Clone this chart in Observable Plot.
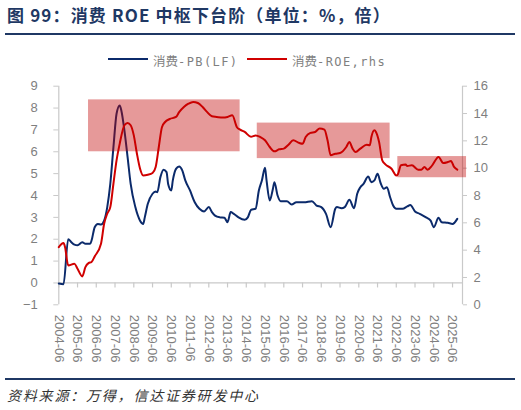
<!DOCTYPE html>
<html><head><meta charset="utf-8">
<script src="https://cdn.jsdelivr.net/npm/d3@7"></script>
<script src="https://cdn.jsdelivr.net/npm/@observablehq/plot@0.6"></script>
<style>
html,body{margin:0;padding:0;background:#fff;}
body{width:521px;height:410px;position:relative;overflow:hidden;font-family:"Noto Sans CJK SC","Noto Sans",sans-serif;}
#title{position:absolute;left:7px;top:2px;font-size:17px;font-weight:bold;color:#1f3864;letter-spacing:1.15px;white-space:nowrap;}
.hr{position:absolute;left:5px;width:510px;height:2px;background:#1f3864;}
#legend{position:absolute;top:49px;left:0;width:521px;height:20px;color:#7f7f7f;}
.lg-line{position:absolute;top:9px;width:40px;height:2px;}
.lg-text{position:absolute;top:0;white-space:nowrap;line-height:20px;}
.cjk{font-family:"Noto Sans CJK SC",sans-serif;font-size:12.5px;}
.mono{font-family:"DejaVu Sans Mono",monospace;font-size:12px;letter-spacing:1.4px;}
#chart{position:absolute;left:0;top:75px;}
#source{position:absolute;left:7px;top:385px;font-size:14px;font-style:italic;color:#333;letter-spacing:1.8px;white-space:nowrap;}
</style>
</head><body>
<div id="title">图 99：消费 ROE 中枢下台阶（单位：%，倍）</div>
<div class="hr" style="top:33px"></div>
<div id="legend">
  <div class="lg-line" style="left:108px;background:#0b2a6b"></div>
  <div class="lg-text" style="left:153px"><span class="cjk">消费</span><span class="mono">-PB(LF)</span></div>
  <div class="lg-line" style="left:247px;background:#d00000"></div>
  <div class="lg-text" style="left:292px"><span class="cjk">消费</span><span class="mono">-ROE,rhs</span></div>
</div>
<div id="chart"></div>
<div class="hr" style="top:378px"></div>
<div id="source">资料来源：万得，信达证券研发中心</div>
<script>
// ---- data ----
const pbDates = ["2004-06","2004-09","2004-12",
 "2005-02","2005-04","2005-06","2005-09","2005-11",
 "2006-02","2006-03","2006-05","2006-07","2006-09","2006-11",
 "2007-01","2007-03","2007-05","2007-07","2007-09","2007-10","2007-12",
 "2008-02","2008-04","2008-07","2008-10","2008-12",
 "2009-01","2009-03","2009-06","2009-08","2009-09","2009-11",
 "2010-01","2010-03","2010-04","2010-06","2010-07","2010-09","2010-11",
 "2011-01","2011-03","2011-06","2011-09","2011-12",
 "2012-03","2012-06","2012-08","2012-10",
 "2013-01","2013-04","2013-06","2013-08","2013-10",
 "2014-01","2014-05","2014-07","2014-09","2014-12",
 "2015-02","2015-04","2015-06","2015-07","2015-09","2015-11","2015-12",
 "2016-02","2016-04","2016-08","2016-11",
 "2017-02","2017-07","2017-12",
 "2018-03","2018-06","2018-09","2018-12",
 "2019-03","2019-04","2019-07","2019-09","2019-12",
 "2020-03","2020-05","2020-07","2020-09","2020-12",
 "2021-02","2021-04","2021-06","2021-08","2021-10","2021-12",
 "2022-02","2022-04","2022-06","2022-10",
 "2023-01","2023-03","2023-06","2023-09",
 "2024-01","2024-04","2024-06","2024-09","2024-11",
 "2025-03","2025-06","2025-09"];
const pbValues = [-0.03,-0.06,2.0,
 1.86,1.75,1.72,1.86,1.79,
 1.79,1.94,2.55,2.7,2.67,2.85,
 3.47,4.53,6.2,7.74,8.12,7.9,6.98,
 5.76,4.53,3.47,2.85,2.7,
 3.0,3.62,4.08,4.18,4.15,4.84,
 5.18,5.07,4.53,4.23,4.69,5.22,5.33,
 5.15,4.69,4.23,3.69,3.39,
 3.27,3.47,3.24,3.08,
 3.0,2.98,2.78,3.24,3.16,
 3.0,2.89,3.0,3.34,3.4,
 4.23,4.69,5.27,4.69,3.77,4.3,4.61,
 4.0,3.74,3.74,3.59,
 3.69,3.69,3.74,
 3.54,3.47,3.16,2.55,
 3.39,3.47,3.42,3.47,3.8,
 3.42,4.08,4.38,4.53,4.87,
 4.61,4.69,4.99,4.56,4.31,4.38,
 3.92,3.54,3.39,3.39,
 3.5,3.57,3.27,3.16,
 3.0,2.85,2.55,2.98,2.78,
 2.75,2.7,2.93];

const roeDates = ["2004-06","2004-09","2004-10","2004-12",
 "2005-04","2005-06","2005-09","2005-11",
 "2006-01","2006-03","2006-05","2006-09","2006-11",
 "2007-01","2007-03","2007-05","2007-07","2007-09","2007-12",
 "2008-02","2008-04","2008-06","2008-08","2008-10","2008-12",
 "2009-03","2009-06","2009-08","2009-10","2009-12",
 "2010-02","2010-05","2010-09","2010-11",
 "2011-02","2011-05","2011-08","2011-11",
 "2012-02","2012-05","2012-08","2012-11",
 "2013-03","2013-06","2013-09","2013-12",
 "2014-02","2014-05","2014-09","2014-12",
 "2015-03","2015-06","2015-09","2015-12",
 "2016-03","2016-06","2016-09","2016-12",
 "2017-04","2017-06","2017-08","2017-11",
 "2018-02","2018-05","2018-08","2018-10","2018-12",
 "2019-03","2019-06","2019-10","2019-12",
 "2020-02","2020-04","2020-07","2020-11",
 "2021-01","2021-02","2021-04","2021-05","2021-07","2021-09","2021-11",
 "2022-03","2022-06","2022-07","2022-09","2022-12",
 "2023-01","2023-04","2023-08","2023-10","2023-12",
 "2024-02","2024-05","2024-09","2024-12",
 "2025-03","2025-05","2025-07","2025-09"];
const roeValues = [4.22,4.52,4.22,2.88,
 3.0,2.64,2.08,2.76,
 3.05,3.13,3.54,4.47,5.93,
 6.67,7.15,8.86,10.57,11.8,13.14,
 13.3,13.14,12.4,11.06,9.96,9.47,
 9.52,9.65,10.09,11.55,13.0,
 13.38,13.6,13.75,14.1,
 14.48,14.72,14.85,14.77,
 14.48,14.1,13.8,13.75,
 13.7,13.75,13.87,13.0,
 12.82,12.65,12.3,12.4,
 12.28,12.04,11.55,11.23,
 11.38,11.43,11.72,12.04,
 11.84,11.79,12.28,12.58,
 12.65,12.9,12.82,12.04,10.94,
 11.06,11.11,11.55,11.92,
 11.43,11.18,11.43,11.72,
 11.67,12.28,12.77,12.65,11.92,10.57,10.28,
 9.96,9.47,9.55,10.21,10.26,
 10.16,10.21,9.89,9.89,10.09,
 9.89,10.21,10.82,10.38,
 10.45,10.53,10.09,9.89];

// shaded ROE "platform" bands (right-axis units)
const bandStart = ["2006-01","2015-01","2022-07"];
const bandEnd   = ["2014-02","2022-02","2026-03"];
const bandLow   = [11.2, 10.7, 9.3];
const bandHigh  = [15.0, 13.3, 10.85];

const leftTicks  = [-1,0,1,2,3,4,5,6,7,8,9];
const rightTicks = [0,2,4,6,8,10,12,14,16];
const xTickLabels = ["2004-06","2005-06","2006-06","2007-06","2008-06","2009-06","2010-06",
 "2011-06","2012-06","2013-06","2014-06","2015-06","2016-06","2017-06","2018-06","2019-06",
 "2020-06","2021-06","2022-06","2023-06","2024-06","2025-06"];

// ---- build ----
const parse = d3.utcParse("%Y-%m");
const toLeft = v => -1 + v * 10 / 16;       // right axis 0..16  -> left axis -1..9
const fromLeft = v => Math.round((v + 1) * 1.6);
const pbData  = pbDates.map((d, i) => ({date: parse(d), v: pbValues[i]}));
const roeData = roeDates.map((d, i) => ({date: parse(d), v: toLeft(roeValues[i])}));
const bands = bandStart.map((s, i) => ({x1: parse(s), x2: parse(bandEnd[i]), y1: toLeft(bandLow[i]), y2: toLeft(bandHigh[i])}));
const xTicks = xTickLabels.map(parse);
const xMin = parse("2004-06");
const xMax = new Date(Date.UTC(2025, 11, 12));
const fmt = d3.utcFormat("%Y-%m");
const axisGray = "#c9c9c9";

const chart = Plot.plot({
  width: 521, height: 300,
  marginLeft: 58.3, marginRight: 59, marginTop: 10.7, marginBottom: 70.7,
  x: {type: "utc", domain: [xMin, xMax]},
  y: {domain: [-1, 9]},
  style: {fontFamily: "'Liberation Sans', Arial, sans-serif", fontSize: "13px", color: "#7f7f7f", background: "white", overflow: "visible"},
  marks: [
    Plot.ruleX([xMin], {stroke: axisGray, strokeWidth: 1.2}),
    Plot.ruleX([xMax], {stroke: axisGray, strokeWidth: 1.2}),
    Plot.ruleY([0], {stroke: axisGray, strokeWidth: 1.2}),
    Plot.ruleX(xTicks, {x: d => d, y1: 0, y2: 0, insetBottom: -5, stroke: axisGray, strokeWidth: 1.2}),
    Plot.axisY(leftTicks, {anchor: "left", tickSize: 5, tickPadding: 16, stroke: axisGray, fill: "#7f7f7f", label: null, tickFormat: d => d3.format("d")(d).replace("-", "−")}),
    Plot.axisY(rightTicks.map(toLeft), {anchor: "right", tickSize: 4, tickPadding: 7, stroke: axisGray, fill: "#7f7f7f", label: null, tickFormat: fromLeft}),
    Plot.axisX(xTicks, {anchor: "bottom", tickSize: 0, tickPadding: 10, tickRotate: 90, fill: "#7f7f7f", label: null, tickFormat: fmt}),
    Plot.line(pbData, {x: "date", y: "v", stroke: "#0b2a6b", strokeWidth: 2, curve: "monotone-x"}),
    Plot.line(roeData, {x: "date", y: "v", stroke: "#d00000", strokeWidth: 2, curve: "monotone-x"}),
    Plot.rect(bands, {x1: "x1", x2: "x2", y1: "y1", y2: "y2", fill: "#c00000", fillOpacity: 0.4})
  ]
});
document.getElementById("chart").appendChild(chart);
</script>
</body></html>
